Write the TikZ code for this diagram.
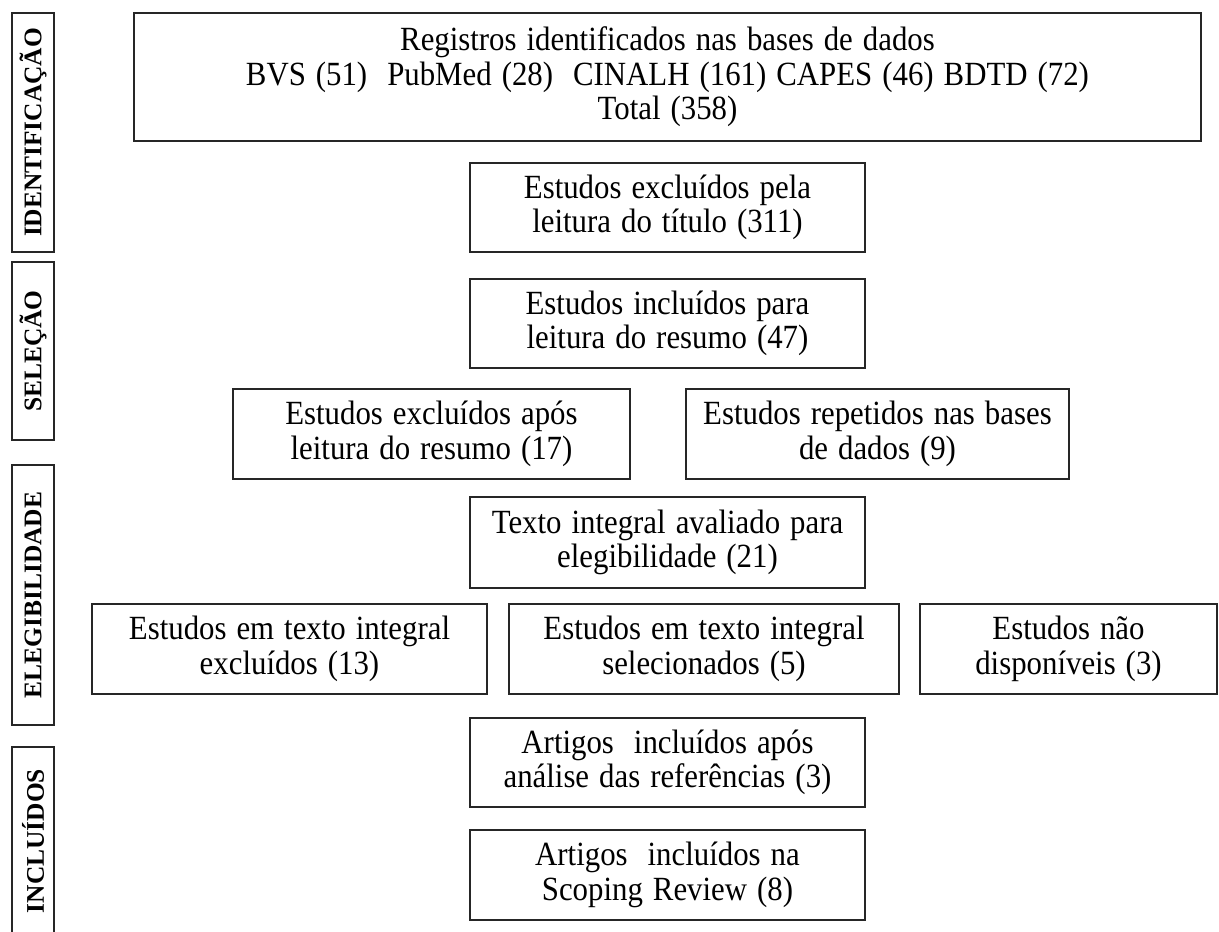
\documentclass[tikz,border=0pt]{standalone}
\usepackage{fontspec}
\setmainfont{Liberation Serif}
\newfontfamily\boxfam[FakeStretch=0.91,WordSpace=1.3]{Liberation Serif}
\newcommand\boxfnt{\boxfam\fontsize{34}{34.5}\selectfont}
\begin{document}
\begin{tikzpicture}[x=1bp,y=-1bp,
  box/.style={draw=black!85, line width=1.1bp, inner sep=0pt, align=center,
    font=\boxfnt},
  lab/.style={draw=black!85, line width=1.1bp, inner sep=0pt, rotate=90,
    minimum height=42bp, font=\fontsize{25.5}{27}\selectfont\bfseries}]
\useasboundingbox (0,0) rectangle (1219,932);
% stage labels
\node[lab, minimum width=239bp] (l1) at (33,132.5) {IDENTIFICAÇÃO};
\node[lab, minimum width=178bp] (l2) at (33,351) {SELEÇÃO};
\node[lab, minimum width=260bp] (l3) at (33,595) {ELEGIBILIDADE};
\node[lab, minimum width=188bp] (l4) at (33,841) {INCLUÍDOS};
% boxes
\node[box, minimum width=1067bp, minimum height=128bp] (top) at (667.5,77)
  {Registros identificados nas bases de dados\\
   BVS (51)\ \ PubMed (28)\ \ CINALH (161) CAPES (46) BDTD (72)\\
   Total (358)};
\node[box, minimum width=395bp, minimum height=89bp] (b2) at (667.5,207.5)
  {Estudos excluídos pela\\leitura do título (311)};
\node[box, minimum width=395bp, minimum height=89bp] (b3) at (667.5,323.5)
  {Estudos incluídos para\\leitura do resumo (47)};
\node[box, minimum width=397bp, minimum height=90bp] (b4) at (431.5,434)
  {Estudos excluídos após\\leitura do resumo (17)};
\node[box, minimum width=383bp, minimum height=90bp] (b5) at (877.5,434)
  {Estudos repetidos nas bases\\de dados (9)};
\node[box, minimum width=395bp, minimum height=91bp] (b6) at (667.5,542.5)
  {Texto integral avaliado para\\elegibilidade (21)};
\node[box, minimum width=395bp, minimum height=90bp] (b7) at (289.5,649)
  {Estudos em texto integral\\excluídos (13)};
\node[box, minimum width=390bp, minimum height=90bp] (b8) at (704,649)
  {Estudos em texto integral\\selecionados (5)};
\node[box, minimum width=297bp, minimum height=90bp] (b9) at (1068.5,649)
  {Estudos não\\disponíveis (3)};
\node[box, minimum width=395bp, minimum height=89bp] (b10) at (667.5,762.5)
  {Artigos\ \ incluídos após\\análise das referências (3)};
\node[box, minimum width=395bp, minimum height=90bp] (b11) at (667.5,875)
  {Artigos\ \ incluídos na\\Scoping Review (8)};
\end{tikzpicture}
\end{document}
